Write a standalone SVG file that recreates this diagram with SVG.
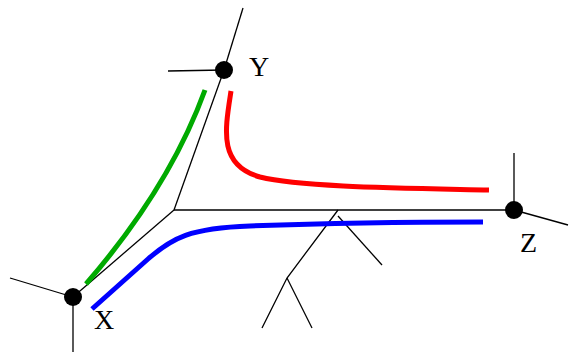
<svg xmlns="http://www.w3.org/2000/svg" width="569" height="353" viewBox="0 0 569 353">
<style>
.e{stroke:#000;stroke-width:1.3;fill:none}
.c{fill:none;stroke-width:5}
.n{fill:#000}
.t{font-family:"Liberation Serif","Times New Roman",serif;font-size:28px;fill:#000}
</style>
<rect width="569" height="353" fill="#fff"/>
<g id="connectors">
<line class="e" x1="174" y1="210" x2="224" y2="70"/>
<line class="e" x1="224" y1="70" x2="243" y2="8"/>
<line class="e" x1="224" y1="70" x2="168" y2="71"/>
<line class="e" x1="174" y1="210" x2="73" y2="297"/>
<line class="e" x1="73" y1="297" x2="10" y2="278"/>
<line class="e" x1="73" y1="297" x2="73" y2="352"/>
<line class="e" x1="174" y1="210" x2="514" y2="210"/>
<line class="e" x1="514" y1="210" x2="514" y2="153"/>
<line class="e" x1="514" y1="210" x2="568" y2="225"/>
<polyline class="e" points="338,210 287,278 262,328"/>
<line class="e" x1="287" y1="278" x2="312" y2="328"/>
<line class="e" x1="338" y1="216" x2="382" y2="265"/>
<path class="c" stroke="#00aa00" d="M205,90 C185,145 150,210 86,284"/>
<path class="c" stroke="#ff0000" d="M231,91 C225,130 218,165 260,177 C300,187 400,188 489,190"/>
<path class="c" stroke="#0000ff" d="M92,309 L148,259 C172,238 190,228 250,226 C330,223 420,222 483,222"/>
</g>
<g id="Y"><circle class="n" cx="224" cy="70" r="9"/><text class="t" x="249" y="76">Y</text></g>
<g id="X"><circle class="n" cx="73" cy="297" r="9"/><text class="t" x="94" y="329">X</text></g>
<g id="Z"><circle class="n" cx="514" cy="210" r="9"/><text class="t" x="520" y="252">Z</text></g>
</svg>
